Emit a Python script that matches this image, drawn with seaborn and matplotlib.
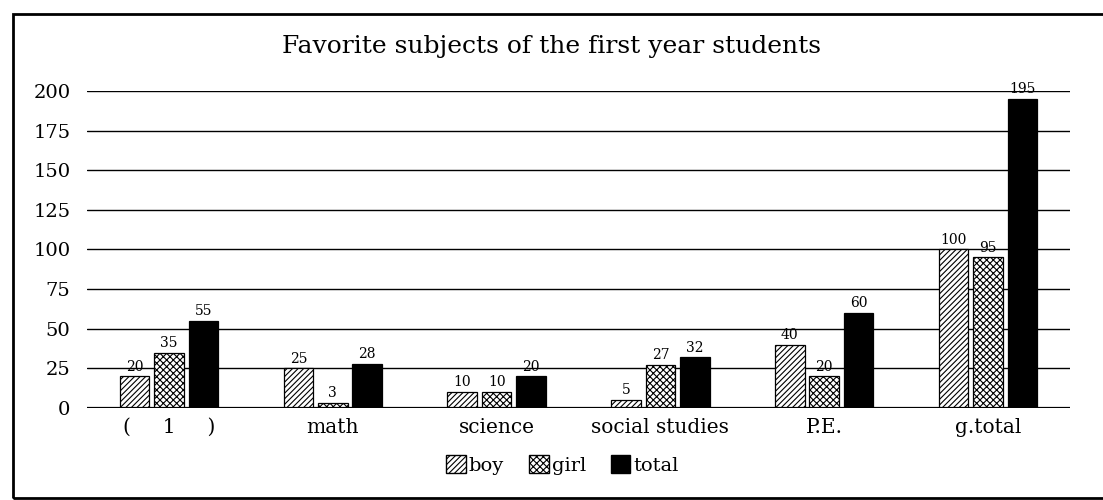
import pandas as pd
import numpy as np
import matplotlib
matplotlib.use('Agg')
import matplotlib.pyplot as plt
import matplotlib.patches as mpatches
import seaborn as sns

# datos
subjects = ['(     1     )', 'math', 'science', 'social studies', 'P.E.', 'g.total']
boy = [20, 25, 10, 5, 40, 100]
girl = [35, 3, 10, 27, 20, 95]
total = [55, 28, 20, 32, 60, 195]
series = ['boy', 'girl', 'total']
y_ticks = [0, 25, 50, 75, 100, 125, 150, 175, 200]

df = pd.DataFrame({'subject': subjects, 'boy': boy, 'girl': girl, 'total': total})
df_long = df.melt(id_vars='subject', var_name='group', value_name='count')

sns.set_theme(style='white')
plt.rcParams['font.family'] = ['DejaVu Serif']
plt.rcParams['hatch.linewidth'] = 0.8
plt.rcParams['text.color'] = 'black'
plt.rcParams['xtick.color'] = 'black'
plt.rcParams['ytick.color'] = 'black'

fig = plt.figure(figsize=(11.03, 5.0), dpi=100)
ax = fig.add_axes([0.079, 0.184, 0.891, 0.634])

# gridlines detras de las barras
for t in y_ticks[1:]:
    ax.axhline(t, color='black', lw=1.0, zorder=0)
ax.axhline(0, color='black', lw=1.6, zorder=3)

sns.barplot(data=df_long, x='subject', y='count', hue='group', hue_order=series,
            order=subjects, width=0.63, gap=0.14, palette=['white', 'white', 'black'],
            edgecolor='black', linewidth=0.9, legend=False, ax=ax, zorder=2)

hatches = ['//////', 'xxxxx', None]
for cont, h in zip(ax.containers, hatches):
    for bar in cont:
        if h:
            bar.set_hatch(h)
    ax.bar_label(cont, padding=2, fontsize=10, color='black', clip_on=False)

ax.set_xlim(-0.5, 5.5)
ax.set_ylim(0, 200)
ax.set_yticks(y_ticks)
ax.set_xlabel('')
ax.set_ylabel('')
ax.tick_params(axis='y', length=0, labelsize=14, pad=12)
ax.tick_params(axis='x', length=0, labelsize=14.5, pad=7)
for s in ax.spines.values():
    s.set_visible(False)

fig.text(0.5, 0.908, 'Favorite subjects of the first year students', ha='center',
         va='center', fontsize=18)

handles = [mpatches.Patch(facecolor='white', edgecolor='black', hatch='//////'),
           mpatches.Patch(facecolor='white', edgecolor='black', hatch='xxxxx'),
           mpatches.Patch(facecolor='black', edgecolor='black')]
fig.legend(handles, series, loc='center', bbox_to_anchor=(0.51, 0.07), ncol=3,
           frameon=False, fontsize=14, handlelength=1.0, handleheight=1.0,
           handletextpad=0.15, columnspacing=1.3)

# marco exterior
fig.add_artist(mpatches.Rectangle((0.012, 0.004), 1.2, 0.968, transform=fig.transFigure,
                                  fill=False, edgecolor='black', lw=2.0))

plt.savefig('out.png', dpi=100)
plt.close()
